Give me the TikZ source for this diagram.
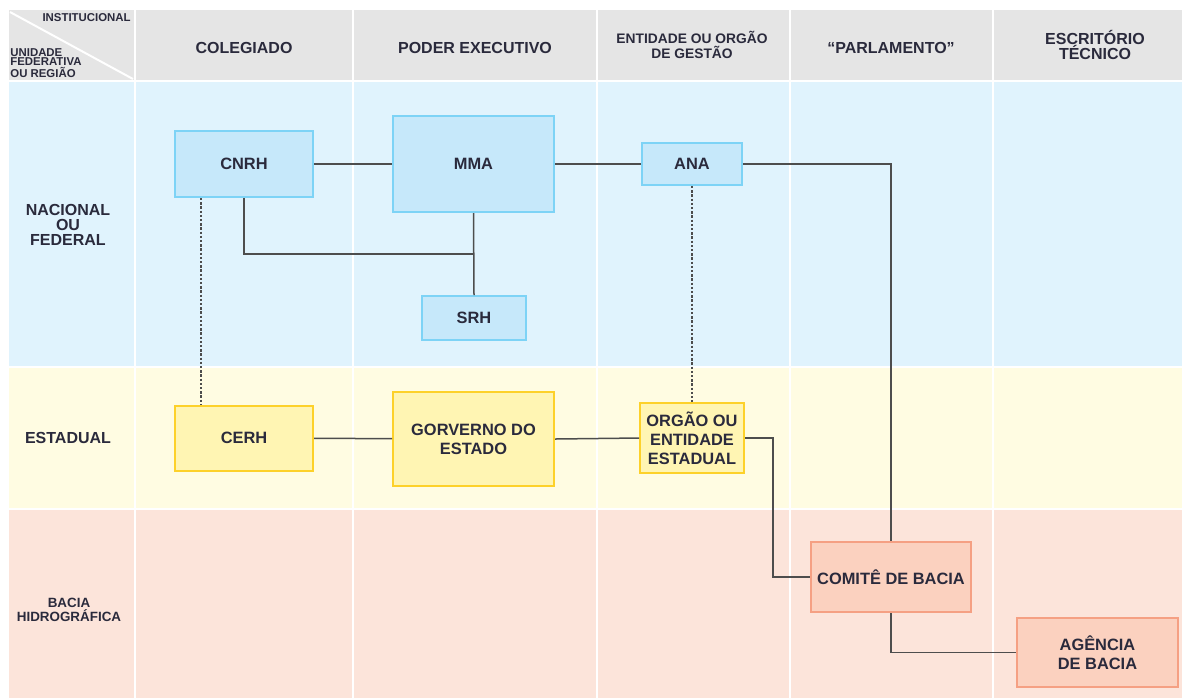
\documentclass[tikz,border=0pt]{standalone}
\usepackage{fontspec}
\setmainfont{Liberation Sans}
\usetikzlibrary{positioning}
\definecolor{headgray}{HTML}{E5E5E5}
\definecolor{bandblue}{HTML}{E0F3FD}
\definecolor{bandyellow}{HTML}{FFFCE2}
\definecolor{bandpink}{HTML}{FCE4DA}
\definecolor{nodeblue}{HTML}{C6E8FA}
\definecolor{lineblue}{HTML}{7DD3F6}
\definecolor{nodeyellow}{HTML}{FFF5B3}
\definecolor{lineyellow}{HTML}{FDD12A}
\definecolor{nodepink}{HTML}{FBD1BF}
\definecolor{linepink}{HTML}{F5A083}
\definecolor{txt}{HTML}{2A2A3C}
\definecolor{linkgray}{HTML}{4D4D4D}

\begin{document}
\begin{tikzpicture}[x=0.5pt,y=-0.5pt, every node/.style={inner sep=0pt,text=txt,
 font=\bfseries\fontsize{8.2}{9.5}\selectfont}, box/.style={draw,line width=1pt,align=center},
 bluebox/.style={box,fill=nodeblue,draw=lineblue},
 yellowbox/.style={box,fill=nodeyellow,draw=lineyellow},
 pinkbox/.style={box,fill=nodepink,draw=linepink},
 head/.style={align=center,font=\bfseries\fontsize{8}{7.5}\selectfont},
 narrowhead/.style={align=center,font=\bfseries\fontsize{6.9}{7.5}\selectfont},
 tiny/.style={align=left,font=\bfseries\fontsize{5.7}{4.3}\selectfont},
 link/.style={draw=linkgray,line width=0.75pt},
 dotlink/.style={link,dash pattern=on 1.2pt off 0.9pt}]
\useasboundingbox (0,0) rectangle (1182,698);
% bands and grid
\fill[headgray] (9,10) rectangle (1182,80);
\fill[bandblue] (9,82) rectangle (1182,366);
\fill[bandyellow] (9,368) rectangle (1182,508);
\fill[bandpink] (9,510) rectangle (1182,698);
\foreach \x in {135,353,597,790,993} \draw[white,line width=1.2pt] (\x,10) -- (\x,698);
\draw[white,line width=1pt] (10,12) -- (133,79);
% headers
\node[tiny,anchor=north east] (inst) at (131,13) {INSTITUCIONAL};
\node[tiny,anchor=west] (unid) at (10,63) {UNIDADE\\FEDERATIVA\\OU REGIÃO};
\node[head] (colegiado) at (244,48) {COLEGIADO};
\node[head] (poder) at (475,48) {PODER EXECUTIVO};
\node[narrowhead] (entidade) at (692,45) {ENTIDADE OU ORGÃO\\DE GESTÃO};
\node[head] (parlamento) at (891,48) {“PARLAMENTO”};
\node[head] (escritorio) at (1095,45) {ESCRITÓRIO\\TÉCNICO};
\node[head] (nacional) at (68,225) {NACIONAL\\OU\\FEDERAL};
\node[head] (estadual) at (68,438) {ESTADUAL};
\node[narrowhead,font=\bfseries\fontsize{6.7}{7}\selectfont] (bacia) at (69,610) {BACIA\\HIDROGRÁFICA};
% boxes
\node[bluebox,minimum width=69pt,minimum height=33pt] (cnrh) at (244,164) {CNRH};
\node[bluebox,minimum width=80.5pt,minimum height=48pt] (mma) at (473.5,164) {MMA};
\node[bluebox,minimum width=50pt,minimum height=21pt] (ana) at (692,164) {ANA};
\node[bluebox,minimum width=52pt,minimum height=22pt] (srh) at (474,318) {SRH};
\node[yellowbox,minimum width=69pt,minimum height=32.5pt] (cerh) at (244,438) {CERH};
\node[yellowbox,minimum width=80.5pt,minimum height=47pt] (governo) at (473.5,439) {GORVERNO DO\\ESTADO};
\node[yellowbox,minimum width=52pt,minimum height=35pt] (orgao) at (692,438) {ORGÃO OU\\ENTIDADE\\ESTADUAL};
\node[pinkbox,minimum width=80pt,minimum height=35pt] (comite) at (891,577) {COMITÊ DE BACIA};
\node[pinkbox,minimum width=80.5pt,minimum height=34.5pt] (agencia) at (1097.5,652.5) {AGÊNCIA\\DE BACIA};
% connectors
\coordinate (srhjoin) at (474,254);
\coordinate (orgaobend) at (773,438);
\draw[link] (cnrh)--(mma);\draw[link] (mma)--(ana);\draw[link] (mma.south)--(srh.north);
\draw[link] (cnrh.south) |- (srhjoin);\draw[link] (ana.east) -| (comite.north);
\draw[dotlink] ([xshift=13.5pt]cnrh.south west)--([xshift=13.5pt]cerh.north west);
\draw[dotlink] (ana.south)--(orgao.north);
\draw[link] (cerh)--(governo);\draw[link] (governo.east)--(orgao.west);
\draw[link] (orgao.east)--(orgaobend) |- (comite.west);
\draw[link] (comite.south) |- (agencia.west);
\end{tikzpicture}
\end{document}
